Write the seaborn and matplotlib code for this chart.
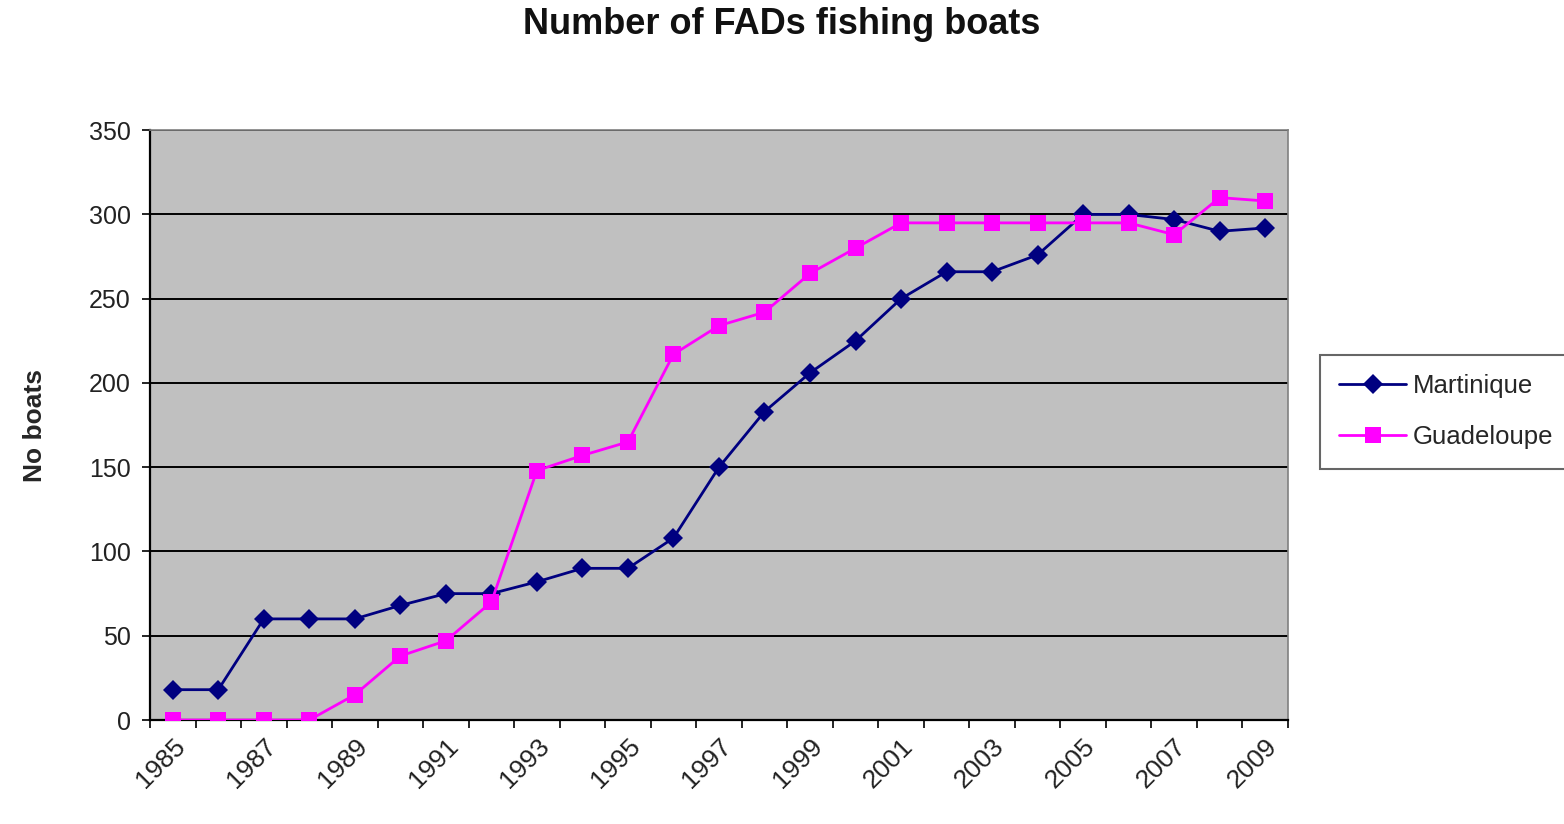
import matplotlib
matplotlib.use("Agg")
import matplotlib.pyplot as plt
from matplotlib.ticker import FixedLocator, MultipleLocator
import seaborn as sns
import pandas as pd

years = list(range(1985, 2010))
martinique = [18, 18, 60, 60, 60, 68, 75, 75, 82, 90, 90, 108, 150, 183, 206,
              225, 250, 266, 266, 276, 300, 300, 297, 290, 292]
guadeloupe = [0, 0, 0, 0, 15, 38, 47, 70, 148, 157, 165, 217, 234, 242, 265,
              280, 295, 295, 295, 295, 295, 295, 288, 310, 308]
series_names = ["Martinique", "Guadeloupe"]
tick_years = list(range(1985, 2010, 2))

df = pd.DataFrame({
    "year": years * 2,
    "boats": martinique + guadeloupe,
    "island": [series_names[0]] * len(years) + [series_names[1]] * len(years),
})

sns.set_style("white")
plt.rcParams["font.family"] = ["Liberation Sans", "DejaVu Sans"]

fig = plt.figure(figsize=(15.64, 8.24), dpi=100)
ax = fig.add_axes([0.0959, 0.1262, 0.7276, 0.7158])
ax.set_facecolor("#C0C0C0")

sns.lineplot(
    data=df, x="year", y="boats", hue="island", style="island",
    palette={"Martinique": "#000080", "Guadeloupe": "#FF00FF"},
    markers={"Martinique": "D", "Guadeloupe": "s"},
    dashes=False, linewidth=2.0, markersize=11, markeredgewidth=0,
    ax=ax, zorder=3,
)
for line in ax.lines:
    if line.get_marker() == "D":
        line.set_markersize(10.5)

ax.set_xlim(1984.5, 2009.5)
ax.set_ylim(0, 350)
ax.yaxis.set_major_locator(MultipleLocator(50))
ax.grid(axis="y", color="black", linewidth=1.4, zorder=1)
ax.set_axisbelow(True)

# Year labels sit on category centres; tick marks sit on category boundaries
ax.xaxis.set_major_locator(FixedLocator(tick_years))
ax.set_xticklabels([str(y) for y in tick_years], rotation=45, ha="right",
                   rotation_mode="anchor", fontsize=19, color="#222222")
ax.xaxis.set_minor_locator(FixedLocator([y + 0.5 for y in range(1984, 2010)]))
ax.tick_params(axis="x", which="major", length=0, pad=10)
ax.tick_params(axis="x", which="minor", length=6, width=1.2, color="black",
               direction="out", bottom=True)
ax.tick_params(axis="y", which="major", length=6, width=1.2, color="black",
               direction="out", left=True, labelsize=18, pad=8,
               labelcolor="#222222")

for side in ("left", "bottom"):
    ax.spines[side].set_color("black")
    ax.spines[side].set_linewidth(1.6)
for side in ("top", "right"):
    ax.spines[side].set_color("#808080")
    ax.spines[side].set_linewidth(1.2)

ax.set_xlabel("")
ax.set_ylabel("No boats", fontsize=19, fontweight="bold", labelpad=30)

fig.text(0.5, 0.97, "Number of FADs fishing boats", ha="center", va="center",
         fontsize=26, fontweight="bold", color="#111111")

handles, labels = ax.get_legend_handles_labels()
leg = ax.legend(handles, labels, loc="upper left",
                bbox_to_anchor=(1320 / 1564, 1 - 355 / 824),
                bbox_transform=fig.transFigure, fontsize=18.5, frameon=True,
                fancybox=False, edgecolor="#666666", facecolor="white",
                framealpha=1, handlelength=2.6, borderpad=0.75,
                labelspacing=1.05, handletextpad=0.25, borderaxespad=0)
leg.get_frame().set_linewidth(1.5)
leg.set_clip_on(False)

fig.savefig("out.png", dpi=100, facecolor="white")
